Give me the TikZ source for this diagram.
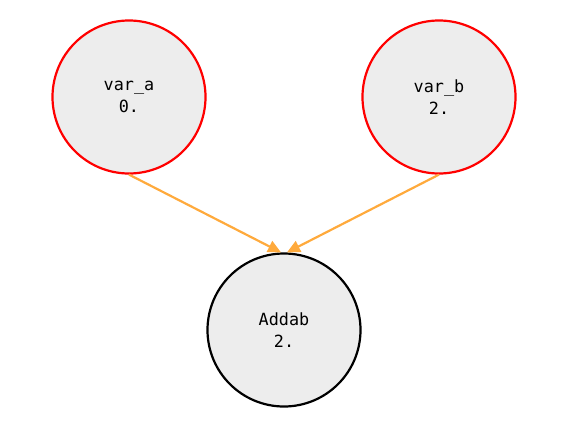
\documentclass[tikz,border=0pt]{standalone}
\usepackage{fontspec}
\setmonofont{DejaVu Sans Mono}
\usetikzlibrary{arrows.meta}
\definecolor{arrowc}{HTML}{FFAA3C}
\begin{document}
\begin{tikzpicture}[x=1pt,y=-1pt,
  var/.style={circle,draw=red,line width=2.2pt,fill=black!7,minimum size=153pt,inner sep=0pt,align=center,font=\ttfamily\fontsize{16.8}{21.5}\selectfont},
  op/.style={var,draw=black},
  link/.style={draw=arrowc,line width=2.2pt,-{Triangle[length=13pt,width=12pt]}}]
\useasboundingbox (0,0) rectangle (563,434);
\node[var] (a) at (129,97) {var\_a\\0.};
\node[var] (b) at (439,97) {var\_b\\2.};
\node[op] (c) at (284,330) {Addab\\2.};
\coordinate (ca) at ([xshift=-3pt]c.north);
\coordinate (cb) at ([xshift=3pt]c.north);
\draw[link] (a.south) -- (ca);
\draw[link] (b.south) -- (cb);
\end{tikzpicture}
\end{document}
